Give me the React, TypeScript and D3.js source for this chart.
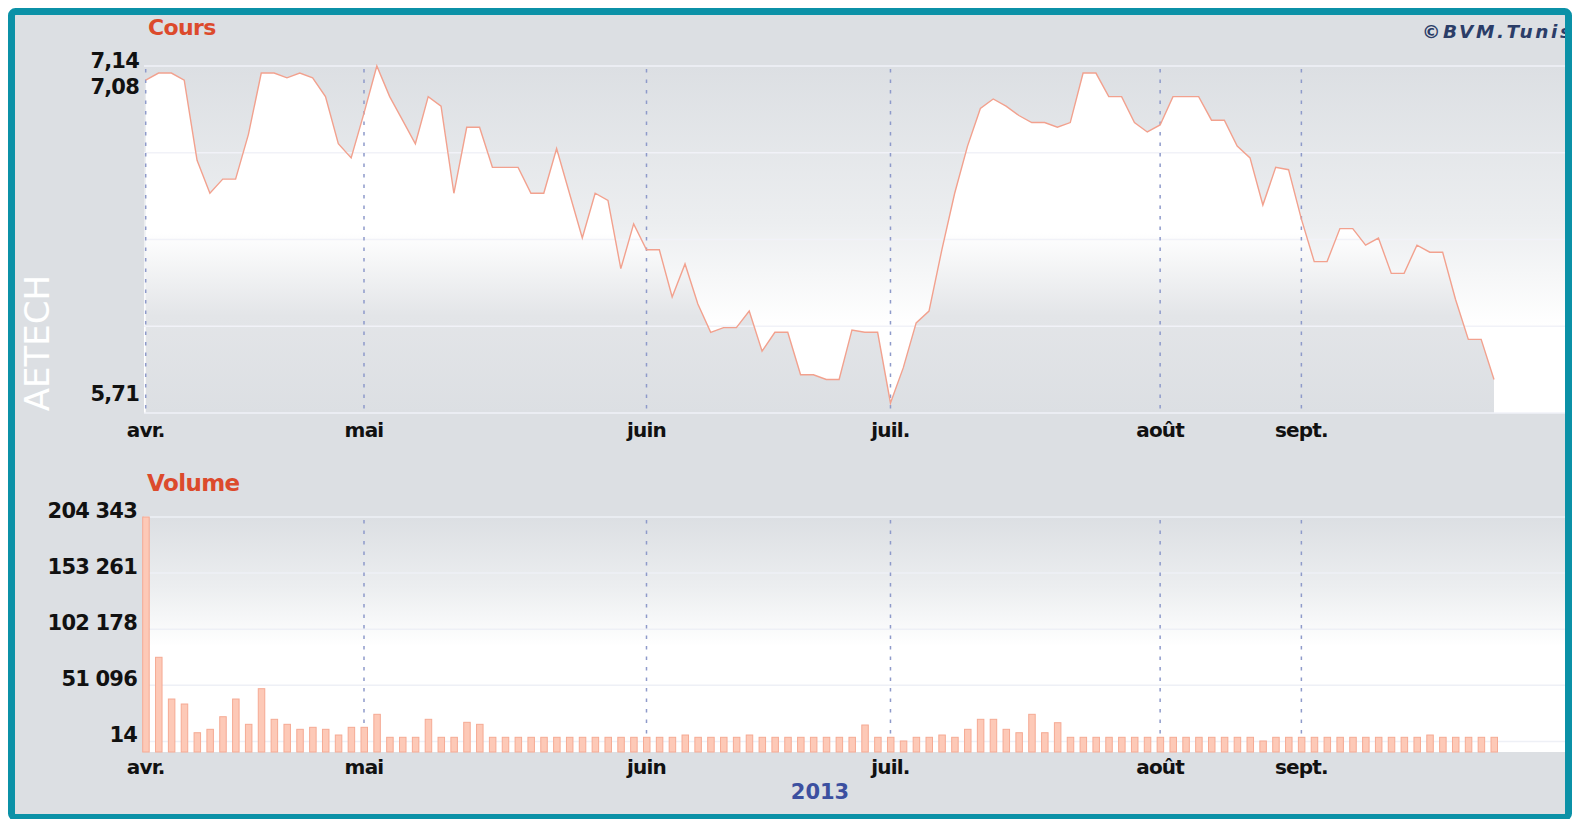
import React, { useEffect, useRef } from "react";
import * as d3 from "d3";

// one value per trading session, avr. -> sept. 2013
const prices = [
  7.08, 7.11, 7.11, 7.08, 6.74, 6.6, 6.66, 6.66, 6.85, 7.11,
  7.11, 7.09, 7.11, 7.09, 7.01, 6.81, 6.75, 6.94, 7.14, 7.01,
  6.91, 6.81, 7.01, 6.97, 6.6, 6.88, 6.88, 6.71, 6.71, 6.71,
  6.6, 6.6, 6.79, 6.6, 6.41, 6.6, 6.57, 6.28, 6.47, 6.36,
  6.36, 6.16, 6.3, 6.13, 6.01, 6.03, 6.03, 6.1, 5.93, 6.01,
  6.01, 5.83, 5.83, 5.81, 5.81, 6.02, 6.01, 6.01, 5.71, 5.86,
  6.05, 6.1, 6.36, 6.6, 6.8, 6.96, 7.0, 6.97, 6.93, 6.9,
  6.9, 6.88, 6.9, 7.11, 7.11, 7.01, 7.01, 6.9, 6.86, 6.89,
  7.01, 7.01, 7.01, 6.91, 6.91, 6.8, 6.75, 6.55, 6.71, 6.7,
  6.49, 6.31, 6.31, 6.45, 6.45, 6.38, 6.41, 6.26, 6.26, 6.38,
  6.35, 6.35, 6.15, 5.98, 5.98, 5.81,
];

const volumes = [
  204343, 76600, 38600, 34060, 7920, 11020, 22490, 38600, 15570, 48000,
  20120, 15570, 11020, 12840, 11020, 5830, 12840, 12840, 24680, 3750,
  3750, 3750, 20120, 3750, 3750, 17390, 15570, 3750, 3750, 3750,
  3750, 3750, 3750, 3750, 3750, 3750, 3750, 3750, 3750, 3750,
  3750, 3750, 5830, 3750, 3750, 3750, 3750, 5830, 3750, 3750,
  3750, 3750, 3750, 3750, 3750, 3750, 14950, 3750, 3750, 400,
  3750, 3750, 5830, 3750, 11020, 20120, 20120, 11020, 7920, 24680,
  7920, 17040, 3750, 3750, 3750, 3750, 3750, 3750, 3750, 3750,
  3750, 3750, 3750, 3750, 3750, 3750, 3750, 400, 3750, 3750,
  3750, 3750, 3750, 3750, 3750, 3750, 3750, 3750, 3750, 3750,
  5830, 3750, 3750, 3750, 3750, 3750,
];

const months = ["avr.", "mai", "juin", "juil.", "août", "sept."];
const monthStarts = [0, 17, 39, 58, 79, 90];
const priceLabels = [7.14, 7.08, 5.71];
const volumeTicks = [14, 51096, 102178, 153261, 204343];

const W = 1574;
const H = 819;

const App: React.FC = () => {
  const ref = useRef<SVGSVGElement>(null);

  useEffect(() => {
    if (!ref.current) return;
    const svg = d3.select(ref.current);
    svg.selectAll("*").remove();

    const plotL = 144;
    const plotR = 1567;
    const top = { y0: 66, y1: 413 };
    const bot = { y0: 517, y1: 752 };
    const font = "'DejaVu Sans', Verdana, sans-serif";

    const x = d3
      .scaleLinear()
      .domain([0, prices.length - 1])
      .range([145.7, 1494]);
    const y = d3.scaleLinear().domain([5.71, 7.14]).range([403, 66]);
    const yv = d3.scaleLinear().domain([14, 204343]).range([741.4, 517]);

    const defs = svg.append("defs");
    const grad = (id: string, y1: number, y2: number, stops: [number, string][]) => {
      const g = defs
        .append("linearGradient")
        .attr("id", id)
        .attr("gradientUnits", "userSpaceOnUse")
        .attr("x1", 0)
        .attr("x2", 0)
        .attr("y1", y1)
        .attr("y2", y2);
      stops.forEach(([o, c]) =>
        g.append("stop").attr("offset", o).attr("stop-color", c)
      );
    };
    grad("bgTop", top.y0, top.y1, [
      [0, "#dcdfe3"],
      [0.45, "#eceef0"],
      [0.75, "#ffffff"],
      [1, "#ffffff"],
    ]);
    grad("areaTop", top.y0, top.y1, [
      [0, "#ffffff"],
      [0.48, "#ffffff"],
      [0.72, "#e3e5e8"],
      [1, "#dcdfe3"],
    ]);
    grad("bgBot", bot.y0, bot.y1, [
      [0, "#dcdfe3"],
      [0.3, "#eceef0"],
      [0.55, "#ffffff"],
      [1, "#ffffff"],
    ]);

    // panel
    svg.append("rect").attr("width", W).attr("height", H).attr("fill", "#ffffff");
    svg
      .append("rect")
      .attr("x", 11.5)
      .attr("y", 11.5)
      .attr("width", 1557)
      .attr("height", 806)
      .attr("fill", "#dcdfe3");

    // ---- Cours ----
    svg
      .append("rect")
      .attr("x", plotL)
      .attr("y", top.y0)
      .attr("width", plotR - plotL)
      .attr("height", top.y1 - top.y0)
      .attr("fill", "url(#bgTop)");

    const area = d3
      .area<number>()
      .x((_, i) => x(i))
      .y0(top.y1)
      .y1((d) => y(d));
    svg.append("path").datum(prices).attr("d", area).attr("fill", "url(#areaTop)");

    const gridTop = d3.range(5).map((k) => top.y0 + ((top.y1 - top.y0) * k) / 4);
    svg
      .selectAll("line.gt")
      .data(gridTop)
      .enter()
      .append("line")
      .attr("x1", plotL)
      .attr("x2", plotR)
      .attr("y1", (d) => d)
      .attr("y2", (d) => d)
      .attr("stroke", "#f1f2f8")
      .attr("stroke-width", 1.5);

    const gridBot = volumeTicks.map((v) => yv(v));

    // ---- Volume ----
    svg
      .append("rect")
      .attr("x", plotL)
      .attr("y", bot.y0)
      .attr("width", plotR - plotL)
      .attr("height", bot.y1 - bot.y0)
      .attr("fill", "url(#bgBot)");
    svg
      .selectAll("line.gb")
      .data(gridBot)
      .enter()
      .append("line")
      .attr("x1", plotL)
      .attr("x2", plotR)
      .attr("y1", (d) => d)
      .attr("y2", (d) => d)
      .attr("stroke", "#eef0f6")
      .attr("stroke-width", 1.5);

    // month lines
    [top, bot].forEach((p) => {
      svg
        .append("g")
        .selectAll("line")
        .data(monthStarts)
        .enter()
        .append("line")
        .attr("x1", (d) => x(d))
        .attr("x2", (d) => x(d))
        .attr("y1", p.y0 + 3)
        .attr("y2", p.y1)
        .attr("stroke", "#8e9aca")
        .attr("stroke-width", 1.5)
        .attr("stroke-dasharray", "3.5,7");
    });

    // bars
    svg
      .append("g")
      .selectAll("rect")
      .data(volumes)
      .enter()
      .append("rect")
      .attr("x", (_, i) => x(i) - 3)
      .attr("y", (d) => yv(d))
      .attr("width", 6.5)
      .attr("height", (d) => bot.y1 - yv(d))
      .attr("fill", "#fdc9b7")
      .attr("stroke", "#f5aa94")
      .attr("stroke-width", 1);

    // price line
    const line = d3
      .line<number>()
      .x((_, i) => x(i))
      .y((d) => y(d));
    svg
      .append("path")
      .datum(prices)
      .attr("d", line)
      .attr("fill", "none")
      .attr("stroke", "#f2a18e")
      .attr("stroke-width", 1.4);

    // price labels
    let prev = -Infinity;
    priceLabels.forEach((v) => {
      const by = Math.max(y(v) + 2, prev + 26);
      prev = by;
      svg
        .append("text")
        .attr("x", 139)
        .attr("y", v === 5.71 ? y(v) - 2 : by)
        .attr("text-anchor", "end")
        .attr("font-family", font)
        .attr("font-weight", "bold")
        .attr("font-size", 21)
        .attr("letter-spacing", -0.8)
        .attr("fill", "#111")
        .text(d3.format(".2f")(v).replace(".", ","));
    });

    // volume labels
    const fmtVol = (v: number) => d3.format(",")(v).replace(/,/g, " ");
    svg
      .selectAll("text.vl")
      .data(volumeTicks)
      .enter()
      .append("text")
      .attr("x", 137)
      .attr("y", (d) => yv(d) + 1)
      .attr("text-anchor", "end")
      .attr("font-family", font)
      .attr("font-weight", "bold")
      .attr("font-size", 21)
      .attr("letter-spacing", -0.8)
      .attr("fill", "#111")
      .text(fmtVol);

    // month labels
    [437, 774].forEach((by) => {
      svg
        .append("g")
        .selectAll("text")
        .data(monthStarts)
        .enter()
        .append("text")
        .attr("x", (d) => x(d))
        .attr("y", by)
        .attr("text-anchor", "middle")
        .attr("font-family", font)
        .attr("font-weight", "bold")
        .attr("font-size", 20)
        .attr("letter-spacing", -0.8)
        .attr("fill", "#111")
        .text((_, i) => months[i]);
    });

    // titles
    svg
      .append("text")
      .attr("x", 148)
      .attr("y", 35)
      .attr("font-family", font)
      .attr("font-weight", "bold")
      .attr("font-size", 22)
      .attr("letter-spacing", -0.6)
      .attr("fill", "#dc4a2c")
      .text("Cours");
    svg
      .append("text")
      .attr("x", 147)
      .attr("y", 491)
      .attr("font-family", font)
      .attr("font-weight", "bold")
      .attr("font-size", 23)
      .attr("letter-spacing", -0.6)
      .attr("fill", "#dc4a2c")
      .text("Volume");
    svg
      .append("text")
      .attr("transform", "translate(49,343) rotate(-90)")
      .attr("text-anchor", "middle")
      .attr("font-family", font)
      .attr("font-size", 34)
      .attr("fill", "#ffffff")
      .text("AETECH");
    svg
      .append("text")
      .attr("x", 820)
      .attr("y", 799)
      .attr("text-anchor", "middle")
      .attr("font-family", font)
      .attr("font-weight", "bold")
      .attr("font-size", 21)
      .attr("fill", "#3c50a0")
      .text("2013");
    svg
      .append("text")
      .attr("x", 1422)
      .attr("y", 38)
      .attr("font-family", font)
      .attr("font-style", "italic")
      .attr("font-weight", "bold")
      .attr("font-size", 18.5)
      .attr("letter-spacing", 2.6)
      .attr("fill", "#2b3d68")
      .text("©BVM.Tunis");

    // frame
    svg
      .append("rect")
      .attr("x", 11.5)
      .attr("y", 11.5)
      .attr("width", 1557)
      .attr("height", 806)
      .attr("rx", 4)
      .attr("fill", "none")
      .attr("stroke", "#0b91a7")
      .attr("stroke-width", 7);
  }, []);

  return (
    <svg
      ref={ref}
      width={W}
      height={H}
      style={{ position: "absolute", left: 0, top: 0 }}
    />
  );
};

export default App;
